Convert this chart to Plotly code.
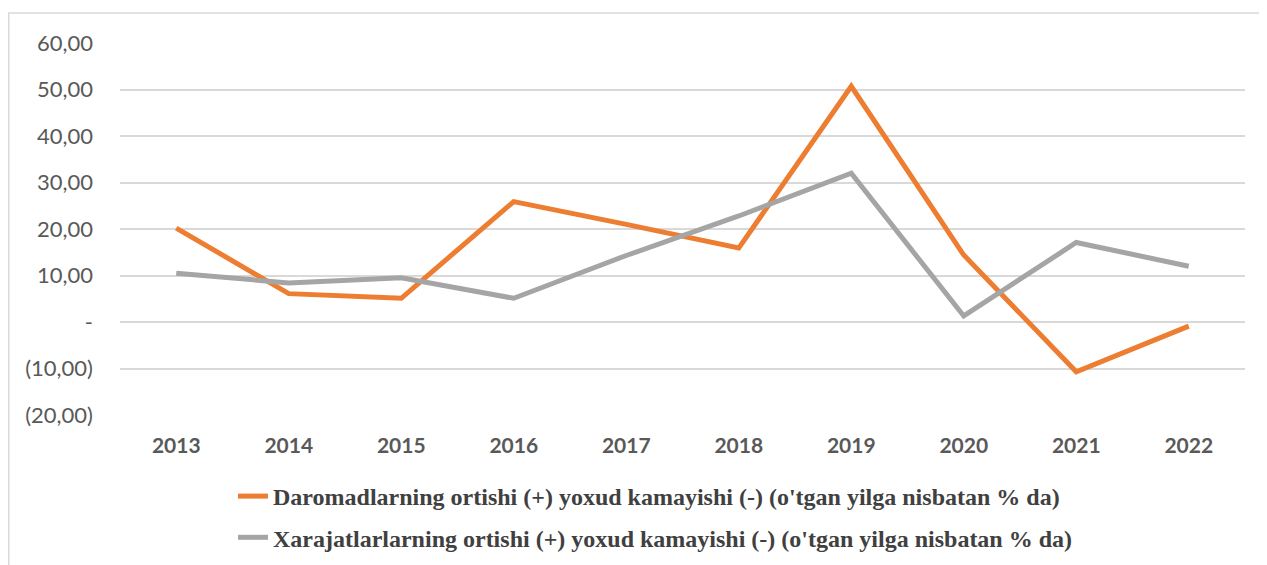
import plotly.graph_objects as go

years = ["2013", "2014", "2015", "2016", "2017", "2018", "2019", "2020", "2021", "2022"]
daromad = [20.2, 6.1, 5.1, 25.9, 21.0, 15.9, 50.7, 14.4, -10.7, -0.9]
xarajat = [10.5, 8.4, 9.5, 5.1, 14.3, 22.8, 32.0, 1.3, 17.1, 12.0]
name_daromad = "Daromadlarning ortishi (+) yoxud kamayishi (-) (o'tgan yilga nisbatan % da)"
name_xarajat = "Xarajatlarlarning ortishi (+) yoxud kamayishi (-) (o'tgan yilga nisbatan % da)"
y_tickvals = [-20, -10, 0, 10, 20, 30, 40, 50, 60]
y_ticktext = ["(20,00)", "(10,00)", "-", "10,00", "20,00", "30,00", "40,00", "50,00", "60,00"]

fig = go.Figure()
fig.add_trace(go.Scatter(x=years, y=daromad, mode="lines", name=name_daromad,
                         legendgroup="a",
                         line=dict(color="#ED7D31", width=5)))
fig.add_trace(go.Scatter(x=years, y=xarajat, mode="lines", name=name_xarajat,
                         legendgroup="b",
                         line=dict(color="#A5A5A5", width=5)))

# page body has an 8px margin; positions below are in figure coordinates
OFF = 8
W, H = 1267, 640
L, R, T, B = 120 - OFF, 1245 - OFF, 43 - OFF, 415 - OFF
PW, PH = R - L, B - T
fig.update_layout(
    width=W, height=H,
    margin=dict(l=L, r=W - R, t=T, b=H - B),
    paper_bgcolor="white", plot_bgcolor="white",
    font=dict(family="Lato, Open Sans, sans-serif", color="#595959", size=20),
    xaxis=dict(type="category", range=[-0.5, 9.5], showgrid=False, showline=False,
               zeroline=False, ticks="", ticklabelstandoff=16,
               tickfont=dict(family="Lato", size=21, color="#595959", weight="bold")),
    yaxis=dict(range=[-20, 60], tickvals=y_tickvals, ticktext=y_ticktext,
               showgrid=True, gridcolor="#D9D9D9", gridwidth=1.5, zeroline=False,
               showline=False, ticks="", ticklabelstandoff=26,
               tickfont=dict(family="Lato", size=22, color="#595959")),
    showlegend=True,
    legend=dict(orientation="v", x=(233 - OFF - L) / PW, xanchor="left",
                y=(B - (474 - OFF)) / PH, yanchor="top",
                tracegroupgap=7,
                font=dict(family="Liberation Serif", size=24, color="#404040", weight="bold"),
                itemwidth=30, bgcolor="rgba(0,0,0,0)"),
    shapes=[
        dict(type="line", xref="paper", yref="paper",
             x0=(8 - OFF - L) / PW, x1=(1300 - L) / PW,
             y0=(B - (13 - OFF)) / PH, y1=(B - (13 - OFF)) / PH,
             line=dict(color="#D9D9D9", width=1.5)),
        dict(type="line", xref="paper", yref="paper",
             x0=(8 - OFF - L) / PW + 0.0007, x1=(8 - OFF - L) / PW + 0.0007,
             y0=(B - (13 - OFF)) / PH, y1=(B - (H + 10)) / PH,
             line=dict(color="#D9D9D9", width=1.5)),
    ],
)

fig.write_html("out.html")
